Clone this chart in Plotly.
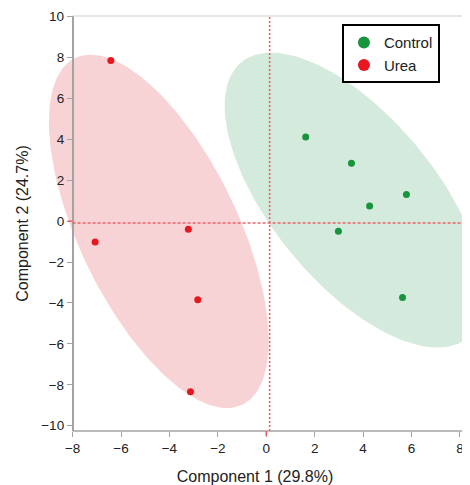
import numpy as np
import plotly.graph_objects as go

# ---- data ----
control_x = [1.63, 3.52, 5.79, 4.27, 2.98, 5.63]
control_y = [4.12, 2.83, 1.30, 0.74, -0.50, -3.73]
urea_x = [-6.42, -7.07, -3.22, -2.83, -3.13]
urea_y = [7.85, -1.02, -0.40, -3.84, -8.34]

# confidence ellipses: centre, half-ranges and correlation
control_ellipse = dict(cx=3.64, cy=1.03, sx=5.36, sy=7.21, r=-0.64)
urea_ellipse = dict(cx=-4.44, cy=-0.50, sx=4.54, sy=8.64, r=-0.62)

ref_x = 0.14
ref_y = -0.09

x_ticks = [-8, -6, -4, -2, 0, 2, 4, 6, 8]
y_ticks = [-10, -8, -6, -4, -2, 0, 2, 4, 6, 8, 10]

x_range = [-9.14, 8.21]
y_range = [-10.26, 10.03]

FONT = "Liberation Sans, Arial, Helvetica, sans-serif"
GREEN = "#17953d"
RED = "#e8161e"
GREEN_FILL = "#d4eadd"
RED_FILL = "#f8d3d6"
AXIS_GRAY = "#a3a3a3"
FRAME_GRAY = "#cfcfcf"
DASH_RED = "#ec6168"


def ellipse(p, n=200):
    t = np.linspace(0, 2 * np.pi, n)
    x = p["cx"] + p["sx"] * np.cos(t)
    y = p["cy"] + p["sy"] * (p["r"] * np.cos(t) + np.sqrt(1 - p["r"] ** 2) * np.sin(t))
    return x, y


fig = go.Figure()

ex, ey = ellipse(urea_ellipse)
fig.add_trace(go.Scatter(x=ex, y=ey, mode="lines", fill="toself", fillcolor=RED_FILL,
                         line=dict(width=0, color=RED_FILL), showlegend=False, hoverinfo="skip"))
ex, ey = ellipse(control_ellipse)
fig.add_trace(go.Scatter(x=ex, y=ey, mode="lines", fill="toself", fillcolor=GREEN_FILL,
                         line=dict(width=0, color=GREEN_FILL), showlegend=False, hoverinfo="skip"))

fig.add_trace(go.Scatter(x=control_x, y=control_y, mode="markers", name="Control",
                         marker=dict(color=GREEN, size=7)))
fig.add_trace(go.Scatter(x=urea_x, y=urea_y, mode="markers", name="Urea",
                         marker=dict(color=RED, size=7)))

shapes = [
    # reference lines
    dict(type="line", xref="x", yref="paper", x0=ref_x, x1=ref_x, y0=0, y1=1,
         line=dict(color=DASH_RED, width=1.6, dash="2px,2px")),
    dict(type="line", xref="x", yref="y", x0=x_ticks[0], x1=x_range[1], y0=ref_y, y1=ref_y,
         line=dict(color=DASH_RED, width=1.3, dash="3px,2px")),
    # frame lines
    dict(type="line", xref="x", yref="paper", x0=x_ticks[0], x1=x_range[1], y0=0, y1=0,
         line=dict(color=AXIS_GRAY, width=1.5)),
    dict(type="line", xref="x", yref="paper", x0=x_ticks[0], x1=x_range[1], y0=1, y1=1,
         line=dict(color=FRAME_GRAY, width=1.2)),
    dict(type="line", xref="paper", yref="paper", x0=1, x1=1, y0=0, y1=1,
         line=dict(color=FRAME_GRAY, width=1.2)),
    # red zero ticks
    dict(type="line", xref="x", yref="y", x0=x_ticks[0] - 0.21, x1=x_ticks[0], y0=0, y1=0,
         line=dict(color=DASH_RED, width=1.5)),
    dict(type="line", xref="x", yref="paper", x0=0, x1=0, y0=-0.012, y1=0,
         line=dict(color=DASH_RED, width=1.5)),
]

fig.update_layout(
    width=462, height=477,
    margin=dict(l=37, r=5, t=8, b=54),
    paper_bgcolor="white", plot_bgcolor="white",
    font=dict(family=FONT, size=13, color="#222222"),
    shapes=shapes,
    showlegend=True,
    legend=dict(x=0.707, y=0.98, xanchor="left", yanchor="top",
                bordercolor="black", borderwidth=2, bgcolor="white",
                font=dict(size=15, color="#222222"), itemsizing="constant",
                tracegroupgap=0, entrywidth=80, entrywidthmode="pixels"),
    xaxis=dict(range=x_range, tickvals=x_ticks, showgrid=False, zeroline=False,
               automargin=False,
               showline=False, ticks="outside", ticklen=5, tickcolor=AXIS_GRAY, tickwidth=1.2,
               tickfont=dict(size=13.5),
               title=dict(text="Component 1 (29.8%)", font=dict(size=16), standoff=18)),
    yaxis=dict(range=y_range, tickvals=y_ticks, showgrid=False, zeroline=False,
               automargin=False,
               anchor="free", position=(x_ticks[0] - x_range[0]) / (x_range[1] - x_range[0]),
               showline=True, linecolor=AXIS_GRAY, linewidth=1.5,
               ticks="outside", ticklen=5, tickcolor=AXIS_GRAY, tickwidth=1.2,
               tickfont=dict(size=13.5),
               title=dict(text="Component 2 (24.7%)", font=dict(size=16), standoff=8)),
)

fig.write_html("out.html")
